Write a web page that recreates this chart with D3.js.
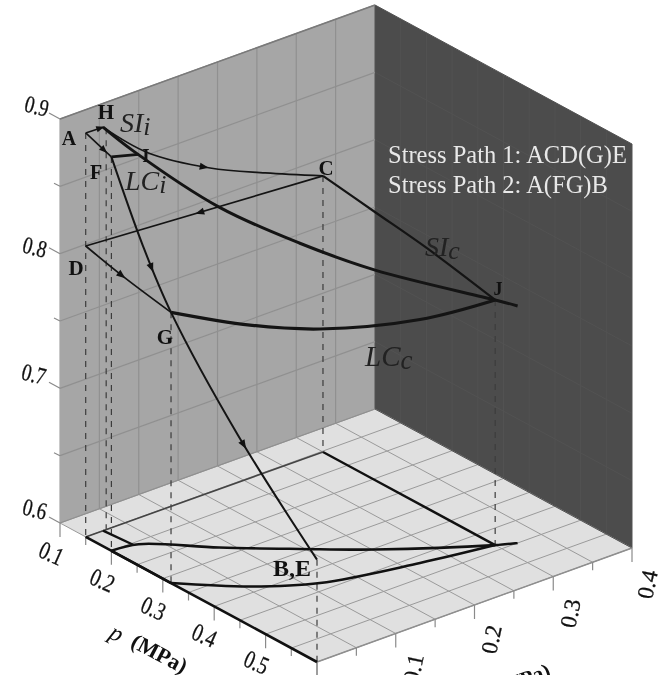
<!DOCTYPE html>
<html>
<head>
<meta charset="utf-8">
<script src="https://cdnjs.cloudflare.com/ajax/libs/d3/7.8.5/d3.min.js"></script>
<style>
html, body { margin: 0; background: #fff; }
svg { display: block; filter: blur(0.7px); }
text { font-family: "Liberation Serif", serif; }
</style>
</head>
<body>
<div id="chart"></div>
<script>
// each point is [p (MPa), q (MPa), e]
var pLabels = ["0.1", "0.2", "0.3", "0.4", "0.5"];
var qLabels = ["0.1", "0.2", "0.3", "0.4"];
var eLabels = ["0.6", "0.7", "0.8", "0.9"];

var pathAH = [[0.15, 0, 0.9], [0.15, 0.022, 0.8996]];
var pathAF = [[0.15, 0, 0.9], [0.2, 0, 0.8925]];
var pathHC = [[0.15, 0.022, 0.8996], [0.15, 0.078, 0.869], [0.15, 0.158, 0.8405], [0.15, 0.228, 0.822], [0.152, 0.3, 0.805]];
var pathCD = [[0.152, 0.3, 0.805], [0.15, 0, 0.816]];
var pathDG = [[0.15, 0, 0.816], [0.222, 0, 0.8085], [0.316, 0, 0.801]];
var pathFE = [[0.2, 0, 0.8925], [0.2615, 0, 0.839], [0.316, 0, 0.801], [0.446, 0, 0.7368], [0.6, 0, 0.676]];
var pathFI = [[0.2, 0, 0.8925], [0.207, 0.03, 0.8895]];
var curveSI = [[0.15, 0.022, 0.8996], [0.204, 0.025, 0.8925], [0.277, 0.0865, 0.8528], [0.343, 0.146, 0.827], [0.403, 0.2024, 0.8075], [0.487, 0.3, 0.782], [0.5, 0.32, 0.776]];
var curveSIc = [[0.152, 0.3, 0.805], [0.2537, 0.3, 0.799], [0.355, 0.3, 0.793], [0.487, 0.3, 0.782]];
var curveLCc = [[0.316, 0, 0.801], [0.385, 0.0552, 0.7941], [0.432, 0.1134, 0.7886], [0.467, 0.2176, 0.7808], [0.487, 0.3, 0.782]];
var dropPoints = [[0.15, 0, 0.9], [0.15, 0.026, 0.898], [0.2, 0, 0.8925], [0.316, 0, 0.801], [0.152, 0.3, 0.805], [0.487, 0.3, 0.782], [0.6, 0, 0.676]];

var width = 658, height = 675;
var originX = 60, originY = 523;

var pX = d3.scaleLinear().domain([0.1, 0.6]).range([0, 257]);
var pY = d3.scaleLinear().domain([0.1, 0.6]).range([0, 139]);
var qX = d3.scaleLinear().domain([0, 0.4]).range([0, 315]);
var qY = d3.scaleLinear().domain([0, 0.4]).range([0, -114]);
var eY = d3.scaleLinear().domain([0.6, 0.9]).range([0, -404]);

function project(d) {
    return [originX + pX(d[0]) + qX(d[1]), originY + pY(d[0]) + qY(d[1]) + eY(d[2])];
}
function onFloor(d) { return [d[0], d[1], 0.6]; }

var svg = d3.select("#chart").append("svg")
    .attr("width", width)
    .attr("height", height);

var straight = d3.line().x(function (d) { return project(d)[0]; }).y(function (d) { return project(d)[1]; });
var smooth = d3.line().x(function (d) { return project(d)[0]; }).y(function (d) { return project(d)[1]; }).curve(d3.curveCatmullRom);

function poly(pts, fill) {
    svg.append("path").attr("d", straight(pts) + "Z").attr("fill", fill);
}
function seg(a, b, color, w) {
    return svg.append("path").attr("d", straight([a, b])).attr("fill", "none").attr("stroke", color).attr("stroke-width", w);
}

// panes
poly([[0.1, 0, 0.6], [0.1, 0.4, 0.6], [0.1, 0.4, 0.9], [0.1, 0, 0.9]], "#a6a6a6");
poly([[0.1, 0.4, 0.6], [0.6, 0.4, 0.6], [0.6, 0.4, 0.9], [0.1, 0.4, 0.9]], "#4c4c4c");
poly([[0.1, 0, 0.6], [0.6, 0, 0.6], [0.6, 0.4, 0.6], [0.1, 0.4, 0.6]], "#e0e0e0");

// grid, every 0.05
d3.range(0, 0.401, 0.05).forEach(function (q) {
    seg([0.1, q, 0.6], [0.6, q, 0.6], "#9a9a9a", 1);
    if (q < 0.399) seg([0.1, q, 0.6], [0.1, q, 0.9], q == 0 ? "#a6a6a6" : "#909090", 1.2);
});
d3.range(0.1, 0.601, 0.05).forEach(function (p) {
    seg([p, 0, 0.6], [p, 0.4, 0.6], "#9a9a9a", 1);
    seg([p, 0.4, 0.6], [p, 0.4, 0.9], "#525252", 1);
});
d3.range(0.6, 0.901, 0.05).forEach(function (e) {
    seg([0.1, 0, e], [0.1, 0.4, e], "#909090", 1.2);
    seg([0.1, 0.4, e], [0.6, 0.4, e], "#525252", 1);
});
seg([0.6, 0, 0.6], [0.6, 0.4, 0.6], "#8f8f8f", 1.5);
seg([0.1, 0, 0.9], [0.1, 0.4, 0.9], "#7a7a7a", 1.5);

// axis ticks
var tickGroup = svg.append("g").attr("stroke", "#8a8a8a").attr("stroke-width", 1.2);
function tick(pt, dx, dy) {
    var s = project(pt);
    tickGroup.append("line").attr("x1", s[0]).attr("y1", s[1]).attr("x2", s[0] + dx).attr("y2", s[1] + dy);
}
d3.range(0.1, 0.601, 0.05).forEach(function (p, i) { tick([p, 0, 0.6], 0, i % 2 ? 8 : 14); });
d3.range(0, 0.401, 0.05).forEach(function (q, i) { tick([0.6, q, 0.6], 0, i % 2 ? 8 : 14); });
d3.range(0.6, 0.901, 0.05).forEach(function (e, i) { tick([0.1, 0, e], i % 2 ? -6 : -11, i % 2 ? -3 : -6); });

// drop lines to the floor
dropPoints.forEach(function (d) {
    seg(d, onFloor(d), "#3c3c3c", 1.2).attr("stroke-dasharray", "6,6");
});

// floor projections
function floorLine(pts, w, gen, color) {
    svg.append("path").attr("d", (gen || smooth)(pts.map(onFloor))).attr("fill", "none").attr("stroke", color || "#111").attr("stroke-width", w);
}
floorLine(pathCD, 1.6, straight, "#444");
floorLine(pathFE, 2.6, straight);
floorLine(pathDG, 2.6, straight);
floorLine(curveSI.slice(0, 2), 2.4, straight);
floorLine(pathFI.concat(curveSI.slice(2)), 2.6, smooth);
floorLine(curveLCc, 2.6, smooth);
floorLine(curveSIc, 2.4, straight);

// stress paths
function stressPath(pts, w, gen) {
    return svg.append("path").attr("d", gen(pts)).attr("fill", "none").attr("stroke", "#141414").attr("stroke-width", w);
}
function arrow(node, frac, size) {
    var L = node.getTotalLength();
    var a = node.getPointAtLength(L * frac), b = node.getPointAtLength(L * frac + 2);
    var ang = Math.atan2(b.y - a.y, b.x - a.x) * 180 / Math.PI;
    svg.append("path").attr("d", d3.line()([[size, 0], [-size, -size * 0.8], [-size, size * 0.8]]) + "Z")
        .attr("transform", "translate(" + a.x + "," + a.y + ") rotate(" + ang + ")")
        .attr("fill", "#111");
}
var pAH = stressPath(pathAH, 1.6, straight);
var pAF = stressPath(pathAF, 1.6, straight);
var pHC = stressPath(pathHC, 1.7, smooth);
var pCD = stressPath(pathCD, 1.7, straight);
var pDG = stressPath(pathDG, 1.7, smooth);
var pFE = stressPath(pathFE, 2, smooth);
stressPath(pathFI, 2.8, straight);
stressPath(curveSI, 3, smooth);
stressPath(curveSIc, 2.2, smooth);
stressPath(curveLCc, 3.2, smooth);

arrow(pAH.node(), 0.85, 4);
arrow(pAF.node(), 0.72, 4);
arrow(pHC.node(), 0.48, 4.5);
arrow(pCD.node(), 0.52, 4.5);
arrow(pDG.node(), 0.43, 4.5);
arrow(pFE.node(), 0.26, 4.5);
arrow(pFE.node(), 0.7, 4.5);

// text
function label(txt, x, y, size, o) {
    o = o || {};
    return svg.append("text").attr("x", x).attr("y", y)
        .attr("font-size", size)
        .attr("font-weight", o.weight || "bold")
        .attr("font-style", o.style || "normal")
        .attr("fill", o.fill || "#111")
        .attr("text-anchor", o.anchor || "middle")
        .attr("transform", o.rot ? "rotate(" + o.rot + "," + x + "," + y + ")" : null)
        .text(txt);
}
// tick labels in the reference are tall and narrow
function squeezed(list, xs, ys, rot, size, sx) {
    list.forEach(function (t, i) {
        svg.append("text")
            .attr("transform", "translate(" + xs[i] + "," + ys[i] + ") rotate(" + rot + ") scale(" + sx + ",1)")
            .attr("font-size", size)
            .attr("text-anchor", "middle")
            .attr("fill", "#111")
            .attr("stroke", "#111")
            .attr("stroke-width", 0.3)
            .text(t);
    });
}
squeezed(eLabels, [33, 32, 33, 35], [517, 382, 255, 114], 14, 24, 0.8);
squeezed(pLabels, [48, 99, 150, 201, 253], [561, 588, 616, 643, 670], 24, 25, 0.78);
squeezed(qLabels, [421, 499, 578, 655], [670, 641, 615, 586], -78, 23, 1);

label("A", 69, 145, 20);
label("H", 106, 119, 21);
label("F", 96, 179, 20);
label("I", 146, 162, 19);
label("C", 326, 175, 21);
label("D", 76, 275, 21);
label("G", 165, 344, 21);
label("J", 498, 295, 18);
label("B,E", 292, 576, 24);

function sub(big, small, x, y, size) {
    var t = label("", x, y, size, { style: "italic", weight: "normal", anchor: "start", fill: "#222" });
    t.append("tspan").text(big);
    t.append("tspan").attr("dy", 3).attr("font-size", size - 2).text(small);
}
sub("SI", "i", 120, 132, 28);
sub("LC", "i", 125, 190, 28);
sub("SI", "c", 425, 256, 28);
sub("LC", "c", 365, 366, 29);

label("Stress Path 1: ACD(G)E", 388, 163, 24.5, { anchor: "start", weight: "normal", fill: "#e8e8e8" });
label("Stress Path 2: A(FG)B", 388, 193, 24.5, { anchor: "start", weight: "normal", fill: "#e8e8e8" });

label("p", 113, 640, 24, { style: "italic", rot: 28, weight: "normal" });
label("(MPa)", 156, 660, 22, { rot: 28 });
label("q (MPa)", 517, 689, 21, { rot: -20 });
label("e", -5, 293, 22, {});
</script>
</body>
</html>
